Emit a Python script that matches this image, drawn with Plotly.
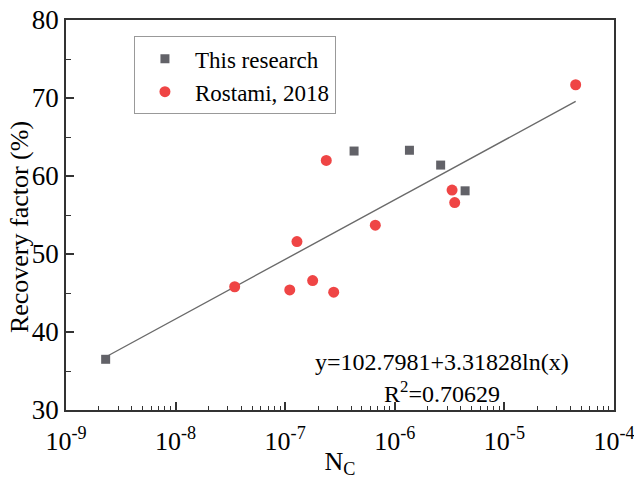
import numpy as np
import plotly.graph_objects as go

# Capillary number and recovery factor, this research
nc_this = [2.3e-9, 4.25e-7, 1.36e-6, 2.62e-6, 4.38e-6]
rf_this = [36.5, 63.2, 63.3, 61.4, 58.1]

# Capillary number and recovery factor, Rostami (2018)
nc_rostami = [3.46e-8, 1.10e-7, 1.28e-7, 1.78e-7, 2.37e-7, 2.77e-7,
              6.64e-7, 3.33e-6, 3.52e-6, 4.47e-5]
rf_rostami = [45.8, 45.4, 51.6, 46.6, 62.0, 45.1,
              53.7, 58.2, 56.6, 71.7]

# Logarithmic fit y = a + b ln(x)
fit_a = 102.7981
fit_b = 3.31828
fit_r2 = 0.70629

x_decades = [1e-9, 1e-8, 1e-7, 1e-6, 1e-5, 1e-4]
x_ticktext = ["10<sup>-9</sup>", "10<sup>-8</sup>", "10<sup>-7</sup>",
              "10<sup>-6</sup>", "10<sup>-5</sup>", "10<sup>-4</sup>"]
y_ticks = [30, 40, 50, 60, 70, 80]

all_nc = nc_this + nc_rostami
x_fit = np.logspace(np.log10(min(all_nc)), np.log10(max(all_nc)), 200)
y_fit = fit_a + fit_b * np.log(x_fit)

x_minor = [m * d for d in x_decades[:-1] for m in range(2, 10)]

FONT = "Liberation Serif, Times New Roman, serif"
AXIS = "#333333"

fig = go.Figure()
fig.add_trace(go.Scatter(x=x_fit, y=y_fit, mode="lines",
                         line=dict(color="#6a6a6a", width=1.4),
                         showlegend=False, hoverinfo="skip"))
fig.add_trace(go.Scatter(x=nc_this, y=rf_this, mode="markers",
                         name="This research",
                         marker=dict(symbol="square", size=9, color="#626268")))
fig.add_trace(go.Scatter(x=nc_rostami, y=rf_rostami, mode="markers",
                         name="Rostami, 2018",
                         marker=dict(symbol="circle", size=11, color="#ef4545")))

# Fit equation and coefficient of determination
fig.add_annotation(x=0.687, y=0.124, xref="paper", yref="paper",
                   xanchor="center", yanchor="middle",
                   text=f"y={fit_a}+{fit_b}ln(x)", showarrow=False,
                   font=dict(family=FONT, size=24, color="black"))
fig.add_annotation(x=0.687, y=0.047, xref="paper", yref="paper",
                   xanchor="center", yanchor="middle",
                   text=f"R<sup>2</sup>={fit_r2}", showarrow=False,
                   font=dict(family=FONT, size=24, color="black"))

# Y-axis title
fig.add_annotation(x=-0.085, y=0.47, xref="paper", yref="paper",
                   xanchor="center", yanchor="middle", textangle=-90,
                   text="Recovery factor (%)", showarrow=False,
                   font=dict(family=FONT, size=26, color="black"))

fig.update_layout(
    width=634, height=479,
    margin=dict(l=66, r=20, t=20, b=69),
    paper_bgcolor="white", plot_bgcolor="white",
    font=dict(family=FONT, size=26, color="black"),
    legend=dict(x=0.124, y=0.958, xanchor="left", yanchor="top",
                bordercolor="#999999", borderwidth=1,
                font=dict(family=FONT, size=23),
                itemwidth=50, tracegroupgap=0),
    xaxis=dict(type="log", range=[-9, -4], automargin=False,
               tickvals=x_decades, ticktext=x_ticktext,
               ticklabeloverflow="allow", ticklabelstandoff=7,
               ticks="inside", ticklen=8, tickwidth=1.5, tickcolor=AXIS,
               minor=dict(tickvals=x_minor, ticks="inside", ticklen=4,
                          tickwidth=1.2, tickcolor=AXIS),
               showline=True, linecolor=AXIS, linewidth=1.8, mirror=True,
               showgrid=False, zeroline=False,
               title=dict(text="N<sub>C</sub>", standoff=14,
                          font=dict(family=FONT, size=26)),
               tickfont=dict(family=FONT, size=26)),
    yaxis=dict(range=[30, 80], tickvals=y_ticks, automargin=False,
               ticklabeloverflow="allow",
               ticks="inside", ticklen=8, tickwidth=1.5, tickcolor=AXIS,
               minor=dict(dtick=5, tick0=30, ticks="inside", ticklen=5,
                          tickwidth=1.2, tickcolor=AXIS),
               showline=True, linecolor=AXIS, linewidth=1.8, mirror=True,
               showgrid=False, zeroline=False,
               tickfont=dict(family=FONT, size=27)),
)

fig.write_html("out.html")
